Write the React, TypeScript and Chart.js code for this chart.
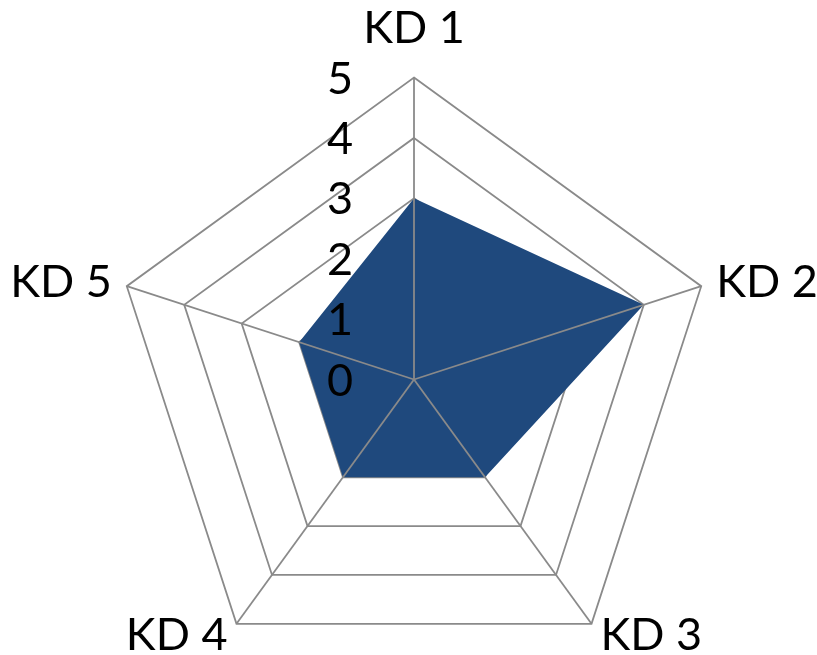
import React, { useEffect, useRef } from "react";
import { Chart, registerables } from "chart.js";

Chart.register(...registerables);

const categories = ["KD 1", "KD 2", "KD 3", "KD 4", "KD 5"];
const seriesValues = [3, 4, 2, 2, 2];
const tickLabels = ["0", "1", "2", "3", "4", "5"];

const FONT = "Lato, 'Open Sans', sans-serif";
const FONT_SIZE = 45;
const LINE_COLOR = "#8a8a8a";

const overlayPlugin = {
  id: "overlay",
  afterDatasetsDraw(chart: any) {
    const r = chart.scales.r;
    const ctx = chart.ctx;
    ctx.save();
    // angle lines drawn above the filled area
    ctx.strokeStyle = LINE_COLOR;
    ctx.lineWidth = 1.8;
    for (let i = 0; i < categories.length; i++) {
      const p = r.getPointPositionForValue(i, r.max);
      ctx.beginPath();
      ctx.moveTo(r.xCenter, r.yCenter);
      ctx.lineTo(p.x, p.y);
      ctx.stroke();
    }
    // tick labels
    ctx.fillStyle = "#000";
    ctx.font = `${FONT_SIZE}px ${FONT}`;
    ctx.textAlign = "right";
    ctx.textBaseline = "alphabetic";
    tickLabels.forEach((t) => {
      const v = Number(t);
      const y = r.yCenter - r.getDistanceFromCenterForValue(v);
      ctx.fillText(t, r.xCenter - 61, y + 16);
    });
    // point labels
    categories.forEach((lab, i) => {
      const p = r.getPointPositionForValue(i, r.max);
      const a = r.getIndexAngle(i);
      const s = Math.sin(a);
      const c = Math.cos(a);
      let x = p.x;
      let y = p.y;
      if (Math.abs(s) < 0.1) {
        ctx.textAlign = "center";
        y = p.y - 35;
      } else {
        const upper = c > 0;
        const gap = upper ? 15 : 9;
        ctx.textAlign = s > 0 ? "left" : "right";
        x = p.x + (s > 0 ? gap : -gap);
        y = upper ? p.y + 11 : p.y + 26;
      }
      ctx.fillText(lab, x, y);
    });
    ctx.restore();
  },
};

export default function App() {
  const ref = useRef<HTMLCanvasElement>(null);
  useEffect(() => {
    if (!ref.current) return;
    const chart = new Chart(ref.current, {
      type: "radar",
      data: {
        labels: categories,
        datasets: [
          {
            data: seriesValues,
            backgroundColor: "#1F497D",
            borderWidth: 0,
            pointRadius: 0,
            fill: true,
          },
        ],
      },
      options: {
        animation: false,
        responsive: false,
        layout: { padding: 0 },
        plugins: { legend: { display: false }, tooltip: { enabled: false } },
        scales: {
          r: {
            min: 0,
            max: 5,
            ticks: { stepSize: 1, display: false },
            grid: { color: LINE_COLOR, lineWidth: 1.8 },
            angleLines: { display: false },
            pointLabels: { display: false },
            afterFit: (scale: any) => {
              scale.xCenter = 414;
              scale.yCenter = 379.5;
              scale.drawingArea = 302;
            },
          },
        },
      },
      plugins: [overlayPlugin],
    });
    return () => chart.destroy();
  }, []);
  return (
    <canvas
      ref={ref}
      width={817}
      height={655}
      style={{ position: "fixed", left: 0, top: 0, display: "block" }}
    />
  );
}
